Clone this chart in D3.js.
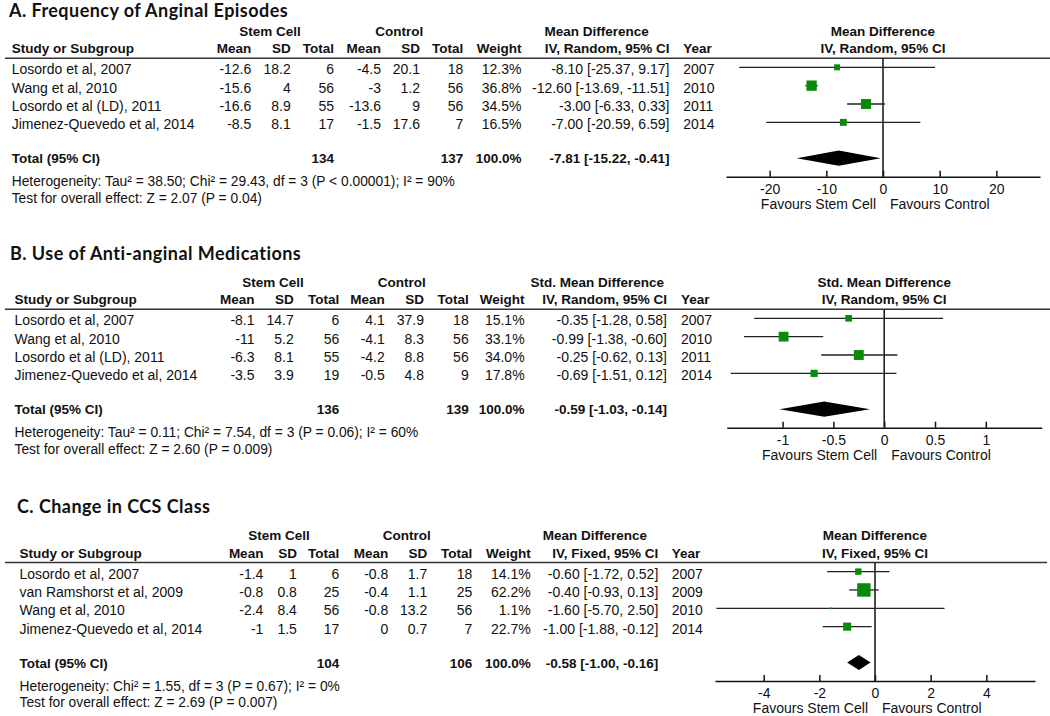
<!DOCTYPE html>
<html><head><meta charset="utf-8">
<script src="https://cdn.jsdelivr.net/npm/d3@7/dist/d3.min.js"></script>
<style>
body{margin:0;background:#fff}
svg{display:block}
text{font-family:"Liberation Sans",Arial,sans-serif;fill:#111}
</style>
</head><body>
<svg id="chart" width="1050" height="716"></svg>
<script>
// ---------- Panel A: Frequency of Anginal Episodes ----------
const aTitle = "A. Frequency of Anginal Episodes";
const aEffect = ["Mean Difference", "IV, Random, 95% CI"];
const aStudies = ["Losordo et al, 2007", "Wang et al, 2010", "Losordo et al (LD), 2011", "Jimenez-Quevedo et al, 2014"];
const aStemMean = [-12.6, -15.6, -16.6, -8.5];
const aStemSD = [18.2, 4, 8.9, 8.1];
const aStemN = [6, 56, 55, 17];
const aCtrlMean = [-4.5, -3, -13.6, -1.5];
const aCtrlSD = [20.1, 1.2, 9, 17.6];
const aCtrlN = [18, 56, 56, 7];
const aWeight = [12.3, 36.8, 34.5, 16.5];
const aEst = [-8.10, -12.60, -3.00, -7.00];
const aLow = [-25.37, -13.69, -6.33, -20.59];
const aHigh = [9.17, -11.51, 0.33, 6.59];
const aYear = [2007, 2010, 2011, 2014];
const aTotalN = [134, 137];
const aTotalWeight = 100.0;
const aPooled = [-7.81, -15.22, -0.41];
const aTicks = [-20, -10, 0, 10, 20];
const aHet = "Heterogeneity: Tau\u00B2 = 38.50; Chi\u00B2 = 29.43, df = 3 (P < 0.00001); I\u00B2 = 90%";
const aTest = "Test for overall effect: Z = 2.07 (P = 0.04)";

// ---------- Panel B: Use of Anti-anginal Medications ----------
const bTitle = "B. Use of Anti-anginal Medications";
const bEffect = ["Std. Mean Difference", "IV, Random, 95% CI"];
const bStudies = ["Losordo et al, 2007", "Wang et al, 2010", "Losordo et al (LD), 2011", "Jimenez-Quevedo et al, 2014"];
const bStemMean = [-8.1, -11, -6.3, -3.5];
const bStemSD = [14.7, 5.2, 8.1, 3.9];
const bStemN = [6, 56, 55, 19];
const bCtrlMean = [4.1, -4.1, -4.2, -0.5];
const bCtrlSD = [37.9, 8.3, 8.8, 4.8];
const bCtrlN = [18, 56, 56, 9];
const bWeight = [15.1, 33.1, 34.0, 17.8];
const bEst = [-0.35, -0.99, -0.25, -0.69];
const bLow = [-1.28, -1.38, -0.62, -1.51];
const bHigh = [0.58, -0.60, 0.13, 0.12];
const bYear = [2007, 2010, 2011, 2014];
const bTotalN = [136, 139];
const bTotalWeight = 100.0;
const bPooled = [-0.59, -1.03, -0.14];
const bTicks = [-1, -0.5, 0, 0.5, 1];
const bHet = "Heterogeneity: Tau\u00B2 = 0.11; Chi\u00B2 = 7.54, df = 3 (P = 0.06); I\u00B2 = 60%";
const bTest = "Test for overall effect: Z = 2.60 (P = 0.009)";

// ---------- Panel C: Change in CCS Class ----------
const cTitle = "C. Change in CCS Class";
const cEffect = ["Mean Difference", "IV, Fixed, 95% CI"];
const cStudies = ["Losordo et al, 2007", "van Ramshorst et al, 2009", "Wang et al, 2010", "Jimenez-Quevedo et al, 2014"];
const cStemMean = [-1.4, -0.8, -2.4, -1];
const cStemSD = [1, 0.8, 8.4, 1.5];
const cStemN = [6, 25, 56, 17];
const cCtrlMean = [-0.8, -0.4, -0.8, 0];
const cCtrlSD = [1.7, 1.1, 13.2, 0.7];
const cCtrlN = [18, 25, 56, 7];
const cWeight = [14.1, 62.2, 1.1, 22.7];
const cEst = [-0.60, -0.40, -1.60, -1.00];
const cLow = [-1.72, -0.93, -5.70, -1.88];
const cHigh = [0.52, 0.13, 2.50, -0.12];
const cYear = [2007, 2009, 2010, 2014];
const cTotalN = [104, 106];
const cTotalWeight = 100.0;
const cPooled = [-0.58, -1.00, -0.16];
const cTicks = [-4, -2, 0, 2, 4];
const cHet = "Heterogeneity: Chi\u00B2 = 1.55, df = 3 (P = 0.67); I\u00B2 = 0%";
const cTest = "Test for overall effect: Z = 2.69 (P = 0.007)";

const favours = ["Favours Stem Cell", "Favours Control"];
const colHeads = ["Mean", "SD", "Total", "Mean", "SD", "Total", "Weight"];

// ---------- layout ----------
const panels = [
  {title: aTitle, effect: aEffect, studies: aStudies, cols6: [aStemMean, aStemSD, aStemN, aCtrlMean, aCtrlSD, aCtrlN],
   weight: aWeight, est: aEst, low: aLow, high: aHigh, year: aYear, totalN: aTotalN, totalW: aTotalWeight, pooled: aPooled, ticks: aTicks, het: aHet, test: aTest,
   titleX: 9, titleY: 16.5, yg: 35.7, domain: [-27.7, 27.7], range: [726, 1040], lineEnd: 1050,
   x: {study: 11.7, num: [251.3, 290.7, 334, 381, 420, 463.3], w: 521.5, ci: 669.5, year: 683.3, gStem: 270, gCtrl: 399.3, gMd: 596.7}},
  {title: bTitle, effect: bEffect, studies: bStudies, cols6: [bStemMean, bStemSD, bStemN, bCtrlMean, bCtrlSD, bCtrlN],
   weight: bWeight, est: bEst, low: bLow, high: bHigh, year: bYear, totalN: bTotalN, totalW: bTotalWeight, pooled: bPooled, ticks: bTicks, het: bHet, test: bTest,
   titleX: 10, titleY: 259.5, yg: 286.7, domain: [-1.55, 1.55], range: [726.7, 1041.7], lineEnd: 1050,
   x: {study: 14.5, num: [254.5, 293.8, 339.3, 384.8, 424, 468.7], w: 524.6, ci: 667, year: 681, gStem: 273, gCtrl: 401.8, gMd: 597.3}},
  {title: cTitle, effect: cEffect, studies: cStudies, cols6: [cStemMean, cStemSD, cStemN, cCtrlMean, cCtrlSD, cCtrlN],
   weight: cWeight, est: cEst, low: cLow, high: cHigh, year: cYear, totalN: cTotalN, totalW: cTotalWeight, pooled: cPooled, ticks: cTicks, het: cHet, test: cTest,
   titleX: 17, titleY: 513, yg: 540, domain: [-5.75, 5.75], range: [715, 1035], lineEnd: 1047,
   x: {study: 19.5, num: [263.4, 296.9, 339.3, 388.3, 427.3, 472.3], w: 530.7, ci: 658.3, year: 671.7, gStem: 279, gCtrl: 406.7, gMd: 595}}
];

const svg = d3.select("#chart");
const f2 = v => v.toFixed(2);
const ciText = (e, l, h) => `${f2(e)} [${f2(l)}, ${f2(h)}]`;
const size = d3.scaleSqrt().domain([0, 100]).range([0, 17]);
const GREEN = "#0a8a0a";

panels.forEach(p => {
  const g = svg.append("g");
  const xs = d3.scaleLinear().domain(p.domain).range(p.range);
  const yg = p.yg;
  const yHead = yg + 17.6;
  const yLine = yg + 22.5;
  const rowY = i => yg + 38.6 + 18.35 * i;
  const yTot = yg + 127.5;
  const yHet = yg + 150.5;
  const yTest = yg + 167;
  const yAxis = yg + 141;

  // title
  g.append("text").attr("x", p.titleX).attr("y", p.titleY)
    .style("font-family", "Lato, 'Open Sans', sans-serif").style("font-weight", "bold").style("font-size", "18px")
    .style("letter-spacing", "0.45px")
    .text(p.title);

  const bold = sel => sel.style("font-weight", "bold").style("font-size", "13.5px");

  // group headers
  [[p.x.gStem, "Stem Cell"], [p.x.gCtrl, "Control"], [p.x.gMd, p.effect[0]], [xs(0), p.effect[0]]].forEach(([x, t]) => {
    g.append("text").attr("x", x).attr("y", yg).attr("text-anchor", "middle").call(bold).text(t);
  });
  // column headers
  g.append("text").attr("x", p.x.study).attr("y", yHead).call(bold).text("Study or Subgroup");
  colHeads.forEach((t, j) => {
    const x = j < 6 ? p.x.num[j] : p.x.w;
    g.append("text").attr("x", x).attr("y", yHead).attr("text-anchor", "end").call(bold).text(t);
  });
  g.append("text").attr("x", p.x.ci).attr("y", yHead).attr("text-anchor", "end").call(bold).text(p.effect[1]);
  g.append("text").attr("x", p.x.year).attr("y", yHead).call(bold).text("Year");
  g.append("text").attr("x", xs(0)).attr("y", yHead).attr("text-anchor", "middle").call(bold).text(p.effect[1]);

  // header rule
  g.append("line").attr("x1", 5).attr("x2", p.lineEnd).attr("y1", yLine).attr("y2", yLine)
    .attr("stroke", "#333").attr("stroke-width", 1.6);

  // study rows
  const reg = sel => sel.style("font-size", "14px");
  p.studies.forEach((s, i) => {
    const y = rowY(i);
    g.append("text").attr("x", p.x.study).attr("y", y).call(reg).text(s);
    p.cols6.forEach((arr, j) => {
      g.append("text").attr("x", p.x.num[j]).attr("y", y).attr("text-anchor", "end").call(reg).text(String(arr[i]));
    });
    g.append("text").attr("x", p.x.w).attr("y", y).attr("text-anchor", "end").call(reg).text(p.weight[i].toFixed(1) + "%");
    g.append("text").attr("x", p.x.ci).attr("y", y).attr("text-anchor", "end").call(reg).text(ciText(p.est[i], p.low[i], p.high[i]));
    g.append("text").attr("x", p.x.year).attr("y", y).call(reg).text(String(p.year[i]));
  });

  // total row
  g.append("text").attr("x", p.x.study).attr("y", yTot).call(bold).text("Total (95% CI)");
  g.append("text").attr("x", p.x.num[2]).attr("y", yTot).attr("text-anchor", "end").call(bold).text(String(p.totalN[0]));
  g.append("text").attr("x", p.x.num[5]).attr("y", yTot).attr("text-anchor", "end").call(bold).text(String(p.totalN[1]));
  g.append("text").attr("x", p.x.w).attr("y", yTot).attr("text-anchor", "end").call(bold).text(p.totalW.toFixed(1) + "%");
  g.append("text").attr("x", p.x.ci).attr("y", yTot).attr("text-anchor", "end").call(bold).text(ciText(p.pooled[0], p.pooled[1], p.pooled[2]));

  g.append("text").attr("x", p.x.study).attr("y", yHet).style("font-size", "13.8px").text(p.het);
  g.append("text").attr("x", p.x.study).attr("y", yTest).style("font-size", "13.8px").text(p.test);

  // zero line
  g.append("line").attr("x1", xs(0)).attr("x2", xs(0)).attr("y1", yLine).attr("y2", yAxis)
    .attr("stroke", "#111").attr("stroke-width", 1.5);

  // CI lines and squares
  p.studies.forEach((s, i) => {
    const y = rowY(i) - 7;
    g.append("line").attr("x1", xs(p.low[i])).attr("x2", xs(p.high[i])).attr("y1", y).attr("y2", y)
      .attr("stroke", "#222").attr("stroke-width", 1.3);
    const sz = size(p.weight[i]);
    g.append("rect").attr("x", xs(p.est[i]) - sz / 2).attr("y", y - sz / 2).attr("width", sz).attr("height", sz)
      .attr("fill", GREEN);
  });

  // pooled diamond
  const yd = yTot - 5, hd = 7.6;
  g.append("path").attr("d", `M${xs(p.pooled[1])},${yd}L${xs(p.pooled[0])},${yd - hd}L${xs(p.pooled[2])},${yd}L${xs(p.pooled[0])},${yd + hd}Z`)
    .attr("fill", "#000");

  // axis
  const ax = g.append("g").attr("transform", `translate(0,${yAxis})`)
    .call(d3.axisBottom(xs).tickValues(p.ticks).tickSizeInner(-6).tickSizeOuter(0).tickPadding(7).tickFormat(d => String(d)));
  ax.select(".domain").attr("stroke", "#111").attr("stroke-width", 1.5);
  ax.selectAll(".tick line").attr("stroke", "#111").attr("stroke-width", 1.5);
  ax.selectAll(".tick text").style("font-family", "'Liberation Sans', Arial, sans-serif").style("font-size", "14px").attr("fill", "#111");

  g.append("text").attr("x", xs(0) - 7).attr("y", yAxis + 32).attr("text-anchor", "end").style("font-size", "14px").text(favours[0]);
  g.append("text").attr("x", xs(0) + 7).attr("y", yAxis + 32).style("font-size", "14px").text(favours[1]);
});
</script>
</body></html>
